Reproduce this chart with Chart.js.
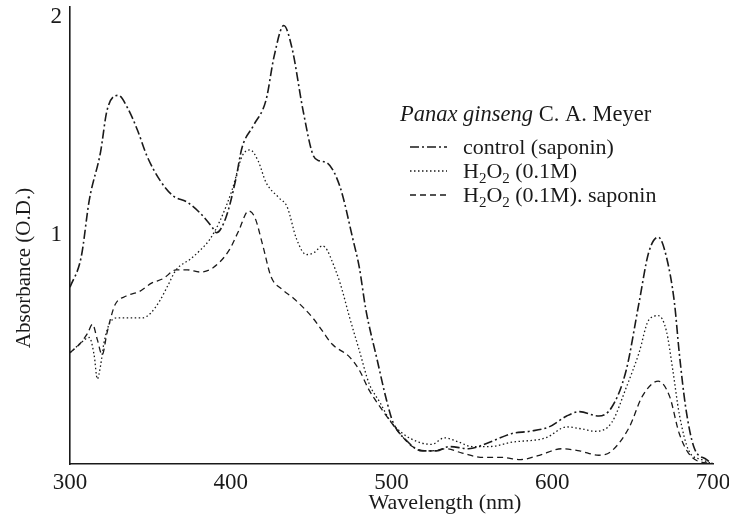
<!DOCTYPE html>
<html>
<head>
<meta charset="utf-8">
<script src="https://cdn.jsdelivr.net/npm/chart.js@4.4.1/dist/chart.umd.min.js"></script>
<style>
    html, body { margin: 0; padding: 0; background: #fff; }
    #wrap { width: 729px; height: 516px; }
</style>
</head>
<body>
<div id="wrap"><canvas id="spectrumChart" width="729" height="516"></canvas></div>
<script>
// 讀圖得到的數據 (波長 nm / 吸光度 O.D.)
const legendTitle = ['Panax ginseng', ' C. A. Meyer'];
const seriesLabels = ['control (saponin)', 'H₂O₂ (0.1M)', 'H₂O₂ (0.1M). saponin'];
const xTicks = [300, 400, 500, 600, 700];
const yTicks = [1, 2];

const controlNm = [300, 307, 312, 319, 323, 330, 336, 342, 348, 356, 364, 373, 381, 389, 391, 397, 403, 407, 414, 422, 427, 433, 438, 445, 451, 455, 460, 468, 476, 480, 484, 491, 497, 501, 509, 519, 528, 536, 548, 561, 575, 586, 598, 609, 617, 629, 637, 646, 654, 660, 666, 671, 676, 679, 683, 688, 696, 700];
const controlAbs = [0.76, 0.90, 1.16, 1.38, 1.57, 1.64, 1.58, 1.48, 1.36, 1.25, 1.18, 1.15, 1.10, 1.03, 1.01, 1.08, 1.25, 1.40, 1.50, 1.62, 1.82, 1.96, 1.86, 1.57, 1.37, 1.34, 1.33, 1.22, 0.98, 0.85, 0.66, 0.43, 0.24, 0.14, 0.06, 0.01, 0.01, 0.03, 0.02, 0.05, 0.09, 0.10, 0.12, 0.17, 0.19, 0.17, 0.21, 0.38, 0.69, 0.92, 0.99, 0.90, 0.69, 0.46, 0.21, 0.03, -0.03, -0.05];

const h2o2Nm = [300, 306, 312, 315, 317, 319, 321, 325, 330, 335, 345, 350, 356, 361, 366, 375, 381, 387, 393, 401, 407, 412, 417, 422, 430, 435, 441, 447, 452, 457, 460, 463, 468, 474, 480, 486, 493, 499, 507, 517, 525, 533, 542, 550, 561, 575, 596, 609, 619, 627, 637, 646, 654, 660, 666, 671, 675, 679, 685, 693, 700];
const h2o2Abs = [0.46, 0.50, 0.53, 0.45, 0.34, 0.40, 0.50, 0.60, 0.62, 0.62, 0.62, 0.64, 0.70, 0.77, 0.84, 0.89, 0.93, 0.98, 1.06, 1.21, 1.36, 1.39, 1.34, 1.24, 1.17, 1.13, 0.98, 0.91, 0.92, 0.95, 0.93, 0.88, 0.78, 0.62, 0.47, 0.32, 0.23, 0.15, 0.09, 0.05, 0.04, 0.07, 0.05, 0.03, 0.03, 0.05, 0.07, 0.12, 0.11, 0.10, 0.14, 0.30, 0.46, 0.61, 0.63, 0.56, 0.38, 0.18, 0.01, -0.03, -0.05];

const saponinNm = [300, 306, 311, 314, 317, 320, 323, 325, 328, 335, 343, 351, 358, 366, 373, 381, 389, 399, 405, 411, 415, 420, 425, 432, 439, 451, 457, 463, 474, 480, 486, 494, 503, 513, 524, 534, 544, 557, 569, 580, 592, 606, 617, 629, 637, 648, 656, 666, 673, 679, 687, 700];
const saponinAbs = [0.46, 0.50, 0.55, 0.59, 0.52, 0.45, 0.55, 0.61, 0.68, 0.72, 0.74, 0.78, 0.80, 0.84, 0.84, 0.83, 0.85, 0.93, 1.02, 1.11, 1.08, 0.95, 0.81, 0.75, 0.71, 0.62, 0.56, 0.50, 0.44, 0.38, 0.29, 0.20, 0.11, 0.03, 0.01, 0.02, 0.00, -0.02, -0.02, -0.03, -0.01, 0.02, 0.01, -0.01, 0.01, 0.12, 0.26, 0.33, 0.26, 0.09, -0.02, -0.05];

const serif = '"Liberation Serif", "DejaVu Serif", serif';
const ink = '#1a1a1a';

function toPoints(xs, ys) {
    return xs.map((x, i) => ({ x: x, y: ys[i] }));
}

// 畫有下標的文字 (₂ -> 小號 2)
function drawRichText(ctx, text, x, y, size) {
    let cx = x;
    for (const ch of text) {
        if (ch === '₂') {
            ctx.font = `${Math.round(size * 0.68)}px ${serif}`;
            ctx.fillText('2', cx, y + size * 0.22);
            cx += ctx.measureText('2').width;
        } else {
            ctx.font = `${size}px ${serif}`;
            ctx.fillText(ch, cx, y);
            cx += ctx.measureText(ch).width;
        }
    }
}

// 圖例和軸標題
const annotations = {
    id: 'annotations',
    afterDraw(chart) {
        const ctx = chart.ctx;
        ctx.save();
        ctx.fillStyle = ink;
        ctx.textBaseline = 'alphabetic';
        ctx.textAlign = 'left';

        ctx.font = `italic 22.5px ${serif}`;
        ctx.fillText(legendTitle[0], 400, 121);
        const w = ctx.measureText(legendTitle[0]).width;
        ctx.font = `22.5px ${serif}`;
        ctx.fillText(legendTitle[1], 400 + w, 121);

        const rows = [147, 171, 195];
        chart.data.datasets.forEach((ds, i) => {
            const y = rows[i];
            ctx.strokeStyle = ds.borderColor;
            ctx.lineWidth = ds.borderWidth;
            ctx.setLineDash(ds.borderDash);
            ctx.beginPath();
            ctx.moveTo(410, y);
            ctx.lineTo(447, y);
            ctx.stroke();
            ctx.setLineDash([]);
            drawRichText(ctx, ds.label, 463, y + 7, 22);
        });

        ctx.font = `22px ${serif}`;
        ctx.textAlign = 'center';
        ctx.fillText('Wavelength (nm)', 445, 509);

        ctx.translate(30, 268);
        ctx.rotate(-Math.PI / 2);
        ctx.font = `21px ${serif}`;
        ctx.fillText('Absorbance (O.D.)', 0, 0);
        ctx.restore();
    }
};

const ctx = document.getElementById('spectrumChart').getContext('2d');

new Chart(ctx, {
    type: 'line',
    data: {
        datasets: [{
            label: seriesLabels[0],
            data: toPoints(controlNm, controlAbs),
            borderColor: ink,
            borderWidth: 1.6,
            borderDash: [9, 3, 2, 3]
        }, {
            label: seriesLabels[1],
            data: toPoints(h2o2Nm, h2o2Abs),
            borderColor: ink,
            borderWidth: 1.3,
            borderDash: [1.5, 2.5]
        }, {
            label: seriesLabels[2],
            data: toPoints(saponinNm, saponinAbs),
            borderColor: ink,
            borderWidth: 1.3,
            borderDash: [6, 4]
        }]
    },
    options: {
        responsive: false,
        animation: false,
        layout: { padding: { left: 0, top: 7, right: 16, bottom: 0 } },
        elements: {
            point: { radius: 0 },
            line: { cubicInterpolationMode: 'monotone', fill: false }
        },
        plugins: {
            legend: { display: false },
            tooltip: { enabled: false }
        },
        scales: {
            x: {
                type: 'linear',
                min: xTicks[0],
                max: xTicks[xTicks.length - 1],
                afterBuildTicks: axis => { axis.ticks = xTicks.map(v => ({ value: v })); },
                afterFit: axis => {
                    axis.height = 52;
                    axis.paddingLeft = 0;
                    axis.paddingRight = 0;
                },
                grid: { display: false, drawTicks: false },
                border: { display: true, color: ink, width: 1.6 },
                ticks: { color: ink, padding: 5, maxRotation: 0, font: { family: serif, size: 23 } }
            },
            y: {
                min: -0.05,
                max: 2.045,
                afterBuildTicks: axis => { axis.ticks = yTicks.map(v => ({ value: v })); },
                afterFit: axis => {
                    axis.width = 70;
                    axis.paddingTop = 0;
                    axis.paddingBottom = 0;
                },
                grid: { display: false, drawTicks: false },
                border: { display: true, color: ink, width: 1.6 },
                ticks: { color: ink, padding: 8, font: { family: serif, size: 23 } }
            }
        }
    },
    plugins: [annotations]
});
</script>
</body>
</html>
